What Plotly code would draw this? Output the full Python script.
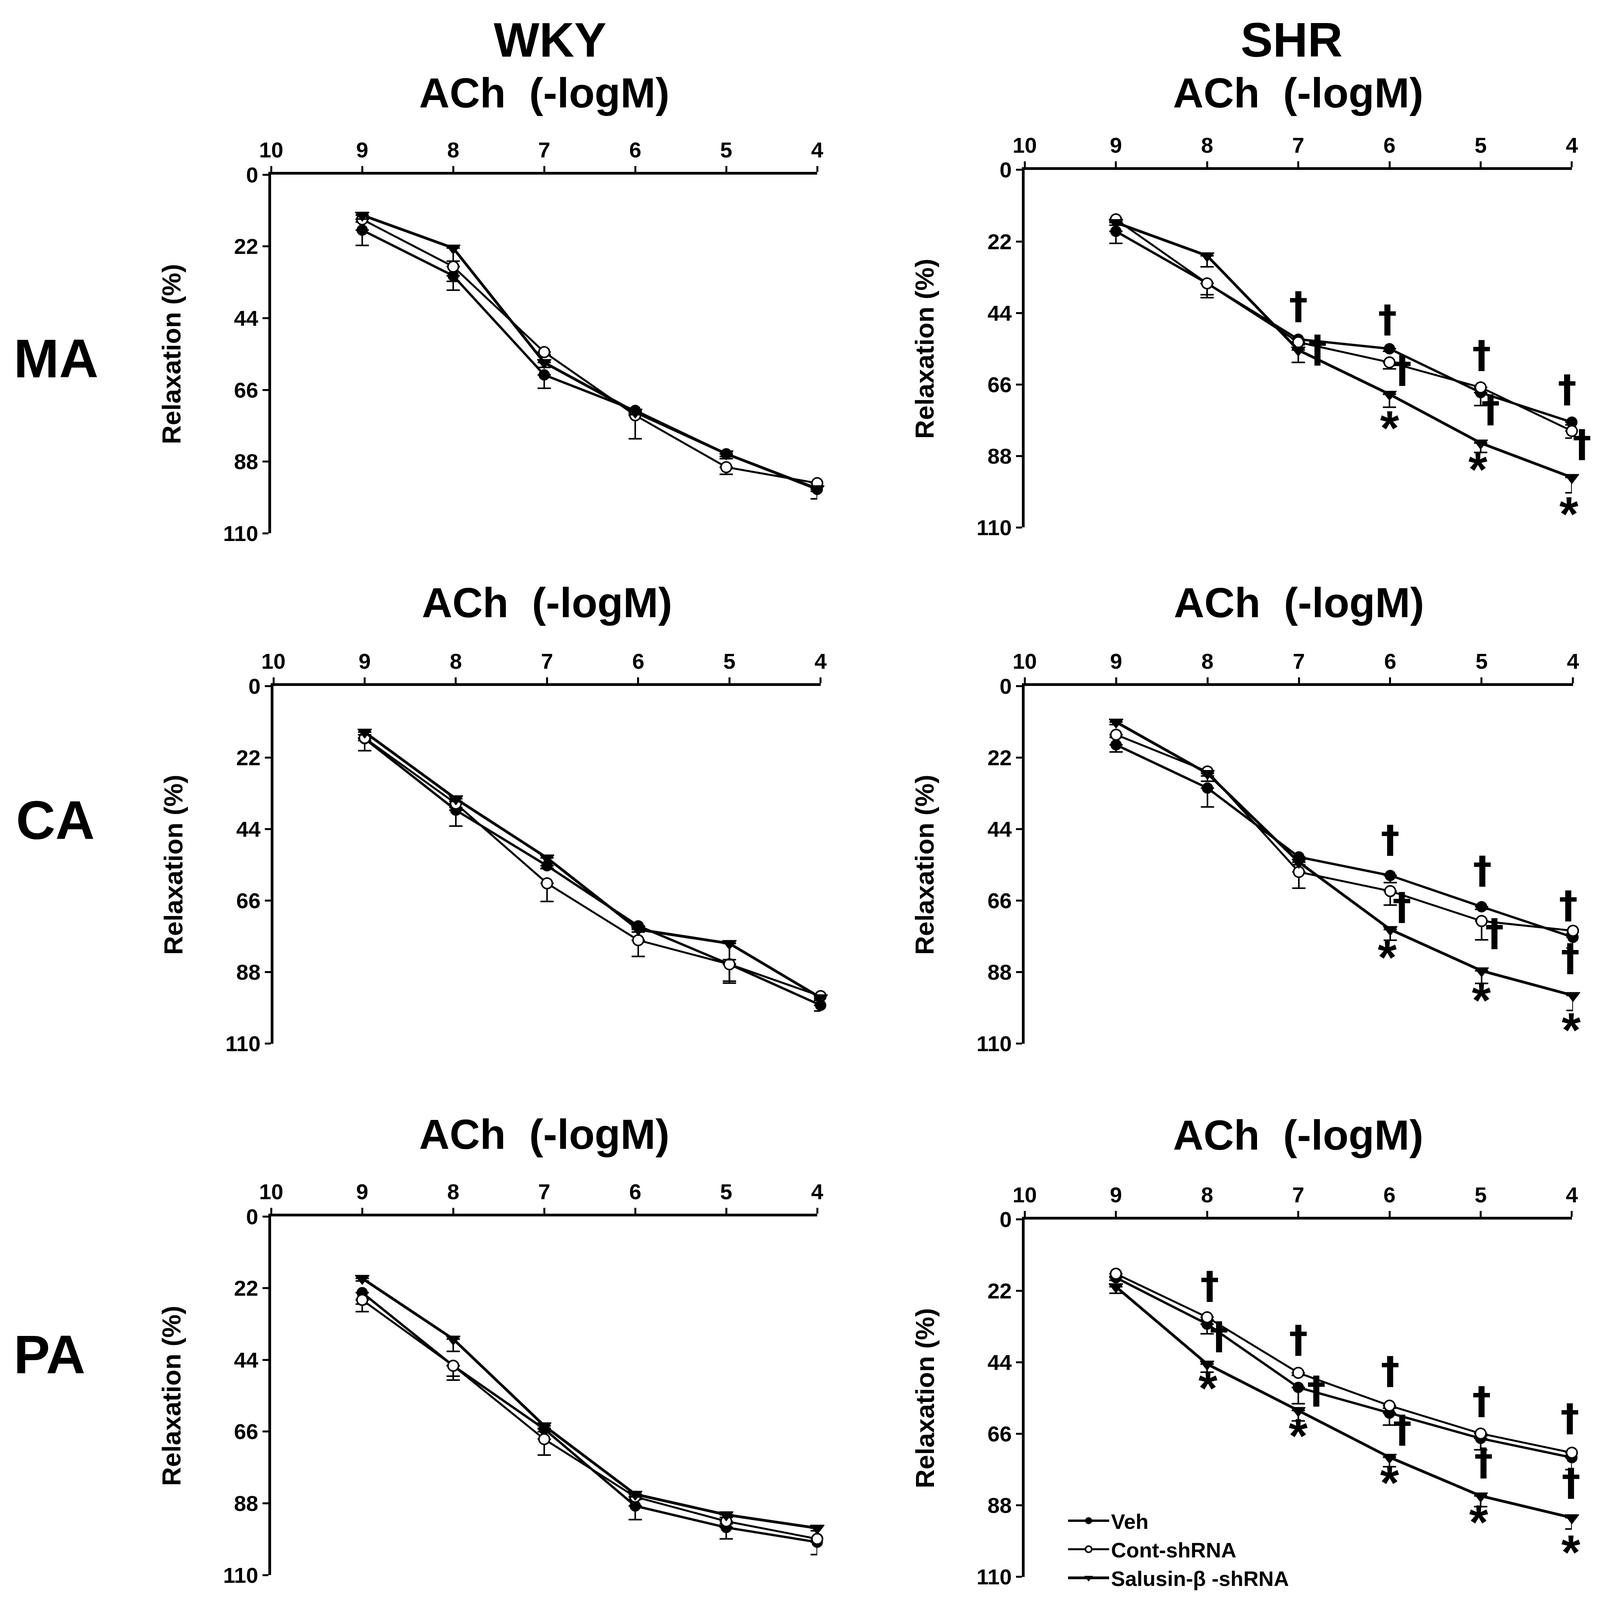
import plotly.graph_objects as go

# the page gets photographed as a 4096x4096 view, so the layout is laid out in
# reference pixels (4200x4594) and mapped onto that view
REF_W, REF_H = 4200, 4594
VIEW = 4096
BODY = 8  # default page margin
FIG_W = FIG_H = 4076
SX, SY = VIEW / REF_W, VIEW / REF_H
FS = 0.93
FONT = "Liberation Sans Narrow, Liberation Sans, Arial, sans-serif"


def px_x(rx):
    return (rx * SX - BODY) / FIG_W


def px_y(ry):
    return 1 - (ry * SY - BODY) / FIG_H


# ACh concentration (-logM) and axis ticks
conc = [9, 8, 7, 6, 5, 4]
x_ticks = [10, 9, 8, 7, 6, 5, 4]
y_ticks = [0, 22, 44, 66, 88, 110]
series_names = ["Veh", "Cont-shRNA", "Salusin-β -shRNA"]

# relaxation (%) means and SEM
wky_ma_veh = [17.0, 31.0, 61.4, 72.3, 85.6, 96.5]
wky_ma_veh_sem = [4.7, 4.4, 4.1, 0.8, 0.8, 2.9]
wky_ma_cont = [13.7, 28.2, 54.4, 73.8, 89.7, 94.6]
wky_ma_cont_sem = [0.8, 4.5, 0.8, 7.2, 2.2, 0.8]
wky_ma_sal = [12.4, 22.5, 57.6, 72.8, 85.6, 96.3]
wky_ma_sal_sem = [1.2, 4.0, 1.5, 0.8, 1.5, 0.8]

wky_ca_veh = [16.2, 38.2, 55.3, 73.8, 85.6, 98.2]
wky_ca_veh_sem = [3.7, 4.9, 0.8, 0.8, 5.2, 1.8]
wky_ca_cont = [16.0, 36.2, 60.7, 78.2, 85.6, 95.4]
wky_ca_cont_sem = [0.8, 1.2, 5.6, 5.0, 5.8, 0.8]
wky_ca_sal = [14.2, 34.7, 52.9, 74.9, 79.2, 95.9]
wky_ca_sal_sem = [0.8, 0.8, 3.3, 0.8, 5.0, 0.8]

wky_pa_veh = [23.4, 45.8, 65.2, 88.8, 95.4, 99.9]
wky_pa_veh_sem = [3.5, 3.2, 0.8, 4.2, 3.5, 3.8]
wky_pa_cont = [25.6, 45.8, 68.3, 86.0, 93.5, 98.9]
wky_pa_cont_sem = [3.6, 4.4, 4.9, 0.8, 0.8, 0.8]
wky_pa_sal = [19.0, 37.6, 64.2, 85.2, 91.5, 95.6]
wky_pa_sal_sem = [0.8, 3.8, 0.8, 0.8, 0.8, 0.8]

shr_ma_veh = [18.9, 34.9, 52.1, 55.0, 68.5, 77.6]
shr_ma_veh_sem = [3.7, 3.5, 0.8, 0.8, 4.0, 0.8]
shr_ma_cont = [15.2, 34.9, 53.0, 59.2, 66.9, 80.3]
shr_ma_cont_sem = [0.8, 4.4, 0.8, 2.0, 0.8, 2.2]
shr_ma_sal = [16.2, 26.4, 55.4, 69.0, 84.0, 94.6]
shr_ma_sal_sem = [0.8, 3.4, 3.8, 4.0, 2.9, 4.7]

shr_ca_veh = [18.1, 31.4, 52.6, 58.3, 67.9, 77.3]
shr_ca_veh_sem = [2.2, 5.8, 0.8, 2.2, 0.8, 3.3]
shr_ca_cont = [15.0, 26.3, 57.2, 63.1, 72.3, 75.3]
shr_ca_cont_sem = [0.8, 3.0, 5.0, 4.3, 5.8, 0.8]
shr_ca_sal = [11.1, 26.9, 54.2, 74.9, 87.6, 95.2]
shr_ca_sal_sem = [0.8, 0.8, 0.8, 3.3, 3.9, 4.6]

shr_pa_veh = [17.9, 32.2, 51.7, 59.6, 67.4, 73.3]
shr_pa_veh_sem = [0.8, 3.0, 5.0, 3.7, 3.5, 3.7]
shr_pa_cont = [16.7, 30.1, 47.2, 57.3, 65.9, 71.8]
shr_pa_cont_sem = [0.8, 0.8, 0.8, 0.8, 0.8, 0.8]
shr_pa_sal = [20.7, 44.5, 58.8, 73.2, 85.1, 91.8]
shr_pa_sal_sem = [2.0, 2.5, 3.2, 2.9, 3.3, 3.5]

# significance marks (data coords)
shr_ma_dagger_x = [7.0, 6.79, 6.02, 5.86, 4.99, 4.89, 4.05, 3.89]
shr_ma_dagger_y = [44.5, 57.8, 48.6, 64.1, 59.5, 76.2, 70.0, 86.9]
shr_ma_star_x = [6.0, 5.03, 4.03]
shr_ma_star_y = [79.4, 92.1, 105.8]

shr_ca_dagger_x = [6.0, 5.87, 4.99, 4.86, 4.05, 4.03]
shr_ca_dagger_y = [49.8, 70.5, 59.4, 78.6, 70.1, 86.3]
shr_ca_star_x = [6.03, 5.0, 4.02]
shr_ca_star_y = [83.4, 96.7, 105.8]

shr_pa_dagger_x = [7.97, 7.87, 7.0, 6.8, 5.99, 5.86, 4.99, 4.97, 4.02, 4.01]
shr_pa_dagger_y = [23.0, 38.5, 39.6, 55.2, 49.2, 67.2, 58.4, 77.3, 63.7, 83.6]
shr_pa_star_x = [7.99, 7.0, 6.0, 5.02, 4.01]
shr_pa_star_y = [51.9, 66.6, 81.0, 93.2, 102.4]

# panel frames in reference pixels: (x at 10, x at 4, y at 0, y at 110, y of ACh title)
panels = [
    dict(px=(688, 2138, 474, 1520, 258),
         data=[(wky_ma_veh, wky_ma_veh_sem), (wky_ma_cont, wky_ma_cont_sem), (wky_ma_sal, wky_ma_sal_sem)]),
    dict(px=(2689, 4142, 460, 1503, 258),
         data=[(shr_ma_veh, shr_ma_veh_sem), (shr_ma_cont, shr_ma_cont_sem), (shr_ma_sal, shr_ma_sal_sem)],
         marks=(shr_ma_dagger_x, shr_ma_dagger_y, shr_ma_star_x, shr_ma_star_y)),
    dict(px=(694, 2147, 1965, 3008, 1745),
         data=[(wky_ca_veh, wky_ca_veh_sem), (wky_ca_cont, wky_ca_cont_sem), (wky_ca_sal, wky_ca_sal_sem)]),
    dict(px=(2689, 4145, 1965, 3008, 1745),
         data=[(shr_ca_veh, shr_ca_veh_sem), (shr_ca_cont, shr_ca_cont_sem), (shr_ca_sal, shr_ca_sal_sem)],
         marks=(shr_ca_dagger_x, shr_ca_dagger_y, shr_ca_star_x, shr_ca_star_y)),
    dict(px=(688, 2138, 3512, 4558, 3295),
         data=[(wky_pa_veh, wky_pa_veh_sem), (wky_pa_cont, wky_pa_cont_sem), (wky_pa_sal, wky_pa_sal_sem)]),
    dict(px=(2689, 4142, 3521, 4563, 3298),
         data=[(shr_pa_veh, shr_pa_veh_sem), (shr_pa_cont, shr_pa_cont_sem), (shr_pa_sal, shr_pa_sal_sem)],
         marks=(shr_pa_dagger_x, shr_pa_dagger_y, shr_pa_star_x, shr_pa_star_y), legend=True),
]

styles = [
    dict(marker=dict(symbol="circle", size=27, color="black", line=dict(color="black", width=2)),
         line=dict(color="black", width=6)),
    dict(marker=dict(symbol="circle", size=27, color="white", line=dict(color="black", width=4)),
         line=dict(color="black", width=5)),
    dict(marker=dict(symbol="triangle-down", size=31, color="black", line=dict(color="black", width=2)),
         line=dict(color="black", width=7)),
]

fig = go.Figure()
layout = {}
annotations = []
bold = dict(color="black", weight="bold")


def label(text, rx, ry, size, **kw):
    size = size * FS
    opts = dict(xanchor="center", yanchor="middle", yshift=0.19 * size)
    opts.update(kw)
    return dict(x=px_x(rx), y=px_y(ry), xref="paper", yref="paper", text=text, showarrow=False,
                font=dict(family=FONT, size=size, **bold), **opts)


def mark(text, x, y, xa, ya, unit_px, font, yshift):
    # marks right of the last dose sit past the axis end; keep the anchor on the axis
    xshift = 0
    if x < 4:
        xshift = (4 - x) * unit_px
        x = 4
    return dict(x=x, y=y, xref=xa, yref=ya, text=text, showarrow=False, font=font,
                xanchor="center", yanchor="middle", xshift=xshift, yshift=yshift)


for i, p in enumerate(panels, start=1):
    x0, x1, y0, y1, ty = p["px"]
    xa, ya = ("x", "y") if i == 1 else (f"x{i}", f"y{i}")
    xdom = [px_x(x0), px_x(x1)]
    ydom = [px_y(y1), px_y(y0)]
    axis_style = dict(showgrid=False, zeroline=False, showline=True, linecolor="black", linewidth=7,
                      ticks="outside", ticklen=15, tickwidth=5, tickcolor="black",
                      tickfont=dict(family=FONT, size=60 * FS, **bold))
    layout["xaxis" if i == 1 else f"xaxis{i}"] = dict(
        domain=xdom, anchor=ya, side="top", range=[10, 4], tickvals=x_ticks, **axis_style)
    layout["yaxis" if i == 1 else f"yaxis{i}"] = dict(
        domain=ydom, anchor=xa, range=[110, 0], tickvals=y_ticks, **axis_style)

    for k, (vals, sem) in enumerate(p["data"]):
        fig.add_trace(go.Scatter(
            x=conc, y=vals, xaxis=xa, yaxis=ya, mode="lines+markers",
            name=series_names[k], legendgroup=series_names[k],
            showlegend=bool(p.get("legend")),
            error_y=dict(type="data", symmetric=False, array=sem, arrayminus=[0] * len(sem),
                         color="black", thickness=4, width=17),
            cliponaxis=False, **styles[k]))

    if "marks" in p:
        dx, dy, sx, sy = p["marks"]
        unit_px = (x1 - x0) * SX / 6
        for x, y in zip(dx, dy):
            annotations.append(mark("†", x, y, xa, ya, unit_px,
                                    dict(family="DejaVu Sans", size=96, **bold), 22))
        for x, y in zip(sx, sy):
            annotations.append(mark("*", x, y, xa, ya, unit_px,
                                    dict(family=FONT, size=125, **bold), 0))

    # axis title above the top axis, y title left of the axis
    annotations.append(label("ACh  (-logM)", (x0 + x1) / 2, ty, 116))
    annotations.append(dict(x=xdom[0], y=sum(ydom) / 2, xref="paper", yref="paper",
                            text="Relaxation (%)", showarrow=False, xshift=-263 * SX, textangle=-90,
                            font=dict(family=FONT, size=72 * FS, **bold),
                            xanchor="center", yanchor="middle"))

# column headers at the very top, row labels flush left
annotations.append(label("WKY", 1429, 0, 133, yanchor="top", yshift=0))
annotations.append(label("SHR", 3398, 0, 133, yanchor="top", yshift=0))
for text, lx, cy in [("MA", 2, 1040), ("CA", 8, 2387), ("PA", 2, 3946)]:
    annotations.append(label(text, lx, cy, 150, xanchor="left"))

fig.update_layout(
    width=FIG_W, height=FIG_H, margin=dict(l=0, r=0, t=0, b=0),
    paper_bgcolor="white", plot_bgcolor="white",
    annotations=annotations,
    legend=dict(x=px_x(2799), y=px_y(4352), xanchor="left", yanchor="top",
                font=dict(family=FONT, size=58 * FS, **bold), bgcolor="rgba(0,0,0,0)",
                tracegroupgap=0, itemwidth=105),
    **layout)

fig.write_html("out.html")
